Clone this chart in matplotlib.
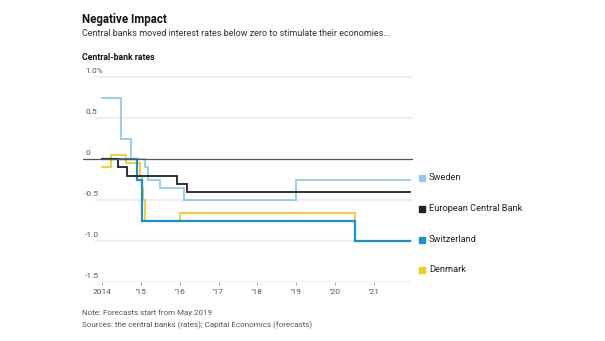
import numpy as np
import matplotlib
matplotlib.use("Agg")
import matplotlib.pyplot as plt

plt.rcParams["font.family"] = ["Roboto", "DejaVu Sans"]

# ----- policy rate steps (year as decimal, rate in %) -----
sweden_dates = [2014.0, 2014.5, 2014.74, 2015.1, 2015.18, 2015.5, 2016.1, 2019.0]
sweden_rates = [0.75, 0.25, 0.0, -0.10, -0.25, -0.35, -0.50, -0.25]

ecb_dates = [2014.0, 2014.42, 2014.65, 2015.94, 2016.18]
ecb_rates = [0.0, -0.10, -0.20, -0.30, -0.40]

swiss_dates = [2014.0, 2014.9, 2015.04, 2020.5]
swiss_rates = [0.0, -0.25, -0.75, -1.0]

denmark_dates = [2014.0, 2014.23, 2014.63, 2014.98, 2015.02, 2015.06, 2015.1, 2016.0, 2020.5]
denmark_rates = [-0.10, 0.05, -0.05, -0.20, -0.35, -0.50, -0.75, -0.65, -1.0]

end_date = 2021.92

names = ["Sweden", "European Central Bank", "Switzerland", "Denmark"]
colors = ["#8dcdec", "#222222", "#1b8fd2", "#f6c928"]

y_ticks = [1.0, 0.5, 0.0, -0.5, -1.0, -1.5]
y_labels = ["1.0%", "0.5", "0", "-0.5", "-1.0", "-1.5"]
x_ticks = [2014, 2015, 2016, 2017, 2018, 2019, 2020, 2021]
x_labels = ["2014", "'15", "'16", "'17", "'18", "'19", "'20", "'21"]

W, H = 605, 341
fig = plt.figure(figsize=(W / 100, H / 100), dpi=100)
fig.patch.set_facecolor("white")

# axes box in pixels: left 82.5, right 413, top 73, bottom 282
ax = fig.add_axes([82.5 / W, 1 - 282.3 / H, (413 - 82.5) / W, (282.3 - 73.2) / H])
ax.set_xlim(2013.5, 2022.0)
ax.set_ylim(-1.5, 1.05)
for s in ax.spines.values():
    s.set_visible(False)

# gridlines + zero line
for v in y_ticks:
    if v == 0:
        ax.axhline(0, color="#555555", lw=0.9, zorder=5)
    else:
        ax.axhline(v, xmin=0.04, color="#efefef", lw=1.6, zorder=0)

# y labels sit inside the plot, just above each gridline
for v, lab in zip(y_ticks, y_labels):
    ax.text(2013.57, v + 0.035, lab, fontsize=6, color="#555555",
            ha="left", va="bottom")
ax.set_yticks([])

ax.set_xticks(x_ticks)
ax.set_xticklabels(x_labels)
ax.tick_params(axis="x", length=2, width=0.6, color="#999999",
               labelsize=6, labelcolor="#555555", pad=3)


def draw(dates, rates, color, lw, z):
    xs = list(dates) + [end_date]
    ys = list(rates) + [rates[-1]]
    ax.step(xs, ys, where="post", color=color, lw=lw, zorder=z,
            solid_joinstyle="miter")


draw(denmark_dates, denmark_rates, colors[3], 1.3, 2)
draw(sweden_dates, sweden_rates, colors[0], 1.3, 3)
draw(swiss_dates, swiss_rates, colors[2], 1.6, 4)
draw(ecb_dates, ecb_rates, colors[1], 1.3, 4.5)

# legend on the right
legend_y = [177.5, 208.5, 239.5, 269.5]
for name, col, yp in zip(names, colors, legend_y):
    fig.patches.append(plt.Rectangle((419 / W, 1 - (yp + 3) / H), 6 / W, 6 / H,
                                     transform=fig.transFigure, color=col,
                                     figure=fig))
    fig.text(429 / W, 1 - yp / H, name, fontsize=6.7, color="#222222",
             ha="left", va="center")

# headings
fig.text(82 / W, 1 - 20 / H, "Negative Impact", fontsize=8.3, fontweight="bold",
         color="#111111", ha="left", va="center")
fig.text(82 / W, 1 - 33 / H,
         "Central banks moved interest rates below zero to stimulate their economies...",
         fontsize=6.5, color="#333333", ha="left", va="center")
fig.text(82 / W, 1 - 57 / H, "Central-bank rates", fontsize=6.2, fontweight="bold",
         color="#111111", ha="left", va="center")

# footnotes
fig.text(82 / W, 1 - 313 / H, "Note: Forecasts start from May 2019",
         fontsize=5.8, color="#555555", ha="left", va="center")
fig.text(82 / W, 1 - 325 / H,
         "Sources: the central banks (rates); Capital Economics (forecasts)",
         fontsize=5.8, color="#555555", ha="left", va="center")

fig.savefig("out.png", dpi=100)
